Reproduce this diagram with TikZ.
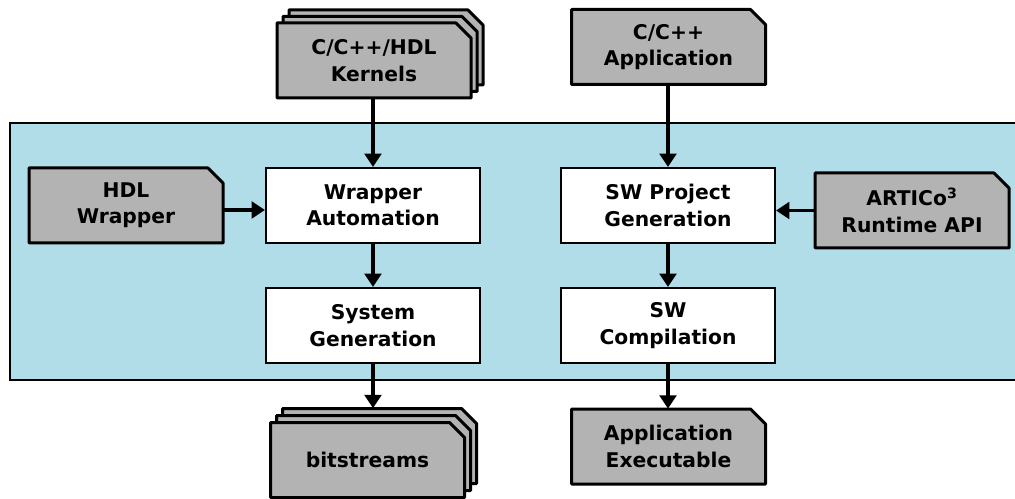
\documentclass[tikz,border=0pt]{standalone}
\usepackage{fontspec}
\setmainfont{DejaVu Sans}
\usetikzlibrary{calc,arrows.meta}

\definecolor{flowbg}{RGB}{176,221,232}
\definecolor{docgray}{RGB}{179,179,179}

\tikzset{
  boxfont/.style={font=\fontsize{15.2}{19.8}\selectfont\bfseries},
  docline/.style={draw=black, fill=docgray, line width=2.25pt, line join=round},
  docnode/.style={inner sep=0pt, minimum width=145.5pt, minimum height=56.25pt,
                  align=center, boxfont},
  stepbox/.style={draw=black, fill=white, line width=1.6pt, inner sep=0pt,
                  minimum width=160.5pt, minimum height=56.25pt, align=center,
                  boxfont},
  flow/.style={line width=2.4pt, -{Triangle[length=10pt,width=12.5pt]}},
}

% document outline with a folded top-right corner, centred at (#1,#2)
\newcommand\docshape[2]{%
  \path[docline] ({#1-97},{#2+37.5}) -- ({#1-97},{#2-37.5}) -- ({#1+82},{#2-37.5})
     -- ({#1+97},{#2-22.5}) -- ({#1+97},{#2+37.5}) -- cycle;}
% single document: name, x, y, text
\newcommand\docat[4]{%
  \docshape{#2}{#3}%
  \node[docnode] (#1) at (#2,#3) {#4};}
% stack of three documents: name, x, y, text, x-step, y-step
\newcommand\docstack[6]{%
  \docshape{#2+2*#5}{#3+2*#6}%
  \node[docnode] (#1back) at ({#2+2*#5},{#3+2*#6}) {};
  \docshape{#2+#5}{#3+#6}%
  \docat{#1}{#2}{#3}{#4}}

\begin{document}
\begin{tikzpicture}[x=0.75pt,y=-0.75pt]
  \useasboundingbox (0,0) rectangle (1015,499);

  % tool-flow region
  \path[fill=flowbg, draw=black, line width=1pt] (10,123) rectangle (1030,380);

  % inputs and outputs
  \docstack{kern}{374}{60.5}{C/C++/HDL\\Kernels}{6}{-6.5}
  \docat{app}{668.5}{47}{C/C++\\Application}
  \docat{hdl}{126}{205.5}{HDL\\Wrapper}
  \docat{api}{912}{210.5}{ARTICo\textsuperscript{3}\\Runtime API}
  \docstack{bits}{367.5}{460}{bitstreams}{6}{-7}
  \docat{exe}{668.5}{446.5}{Application\\Executable}

  % processing steps
  \node[stepbox] (wrap) at (373,205.5) {Wrapper\\Automation};
  \node[stepbox] (sysgen) at (373,325.5) {System\\Generation};
  \node[stepbox] (swproj) at (668,205.5) {SW Project\\Generation};
  \node[stepbox] (swcomp) at (668,325.5) {SW\\Compilation};

  % connectors
  \draw[flow] (wrap.north |- kern.south) -- (wrap.north);
  \draw[flow] (swproj.north |- app.south) -- (swproj.north);
  \draw[flow] ($(hdl.east)+(0,4.5)$) -- (wrap.west |- {$(hdl.east)+(0,4.5)$});
  \draw[flow] (api.west) -- (swproj.east |- api.west);
  \draw[flow] (wrap) -- (sysgen);
  \draw[flow] (swproj) -- (swcomp);
  \draw[flow] (sysgen.south) -- (sysgen.south |- bitsback.north);
  \draw[flow] (swcomp.south) -- (swcomp.south |- exe.north);
\end{tikzpicture}
\end{document}
